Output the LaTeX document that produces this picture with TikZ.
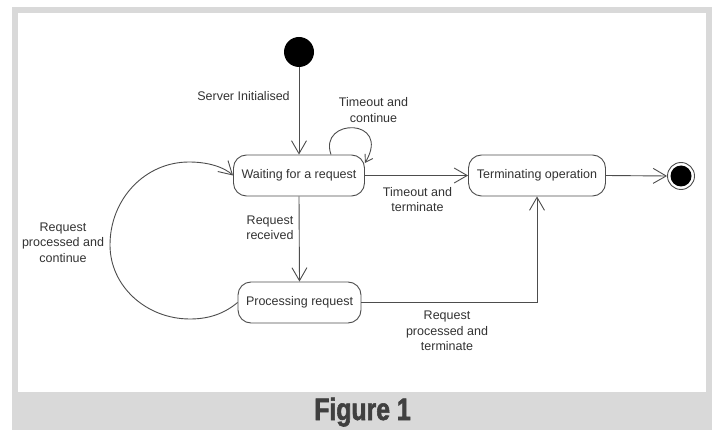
\documentclass[tikz,border=0pt]{standalone}
\usepackage{fontspec}
\setmainfont{Liberation Sans}
\newfontfamily\capfont[FakeStretch=0.8,FakeBold=1.8]{Liberation Sans Bold}
\usetikzlibrary{arrows.meta}
\definecolor{linecol}{HTML}{4D4D4D}
\definecolor{textcol}{HTML}{333333}
\definecolor{bandcol}{HTML}{D9D9D9}
\definecolor{capcol}{HTML}{404040}
\begin{document}
\begin{tikzpicture}[x=1pt,y=-1pt,
  txt/.style={text=textcol, font=\fontsize{12.5}{15.5}\selectfont},
  state/.style={txt, draw=linecol, line width=0.9pt, fill=white,
    rounded corners=13pt, minimum height=41pt, inner sep=0pt},
  lbl/.style={txt, align=center, inner sep=0pt},
  trans/.style={draw=linecol, line width=0.9pt,
    -{Straight Barb[length=13pt,width=15pt,line width=0.9pt]}},
  smalltrans/.style={draw=linecol, line width=0.9pt,
    -{Straight Barb[length=7pt,width=9pt,line width=0.9pt]}},
]
\useasboundingbox (0,0) rectangle (717,430);
% frame and caption band
\fill[white] (0,0) rectangle (717,430);
\fill[bandcol] (12,7) rectangle (712,430);
\fill[white] (18,13) rectangle (706,392);

% states
\node[circle, fill=black, minimum size=30pt, inner sep=0pt] (start) at (299,52) {};
\node[state, minimum width=131pt] (wait) at (299,175.5) {Waiting for a request};
\node[state, minimum width=123pt] (proc) at (299.5,302.5) {Processing request};
\node[state, minimum width=137pt] (term) at (537,175.5) {Terminating operation};
\node[circle, draw=linecol, line width=0.9pt, minimum size=27pt, inner sep=0pt] (final) at (681,176) {};
\fill[black] (final.center) circle[radius=10.5pt];

% transitions
\draw[trans] (start) -- (wait.north);
\draw[smalltrans] ([xshift=32pt]wait.north)
  .. controls ([shift={(19,-37)}]wait.north) and ([shift={(93,-37)}]wait.north)
  .. ([shift={(0,-12.5)}]wait.east);
\draw[trans] (wait.east) -- (term.west);
\draw[trans] (wait.south) -- (proc.north);
\draw[trans] (proc.west)
  .. controls (225,313) and (210,319) .. (190,319)
  .. controls (146,319) and (110,286) .. (110,245)
  .. controls (110,199) and (145,162) .. (189,162)
  .. controls (210,162) and (225,168) .. (wait.west);
\draw[trans] (proc.east) -| (term.south);
\draw[trans] (term.east) -- (final.west);

% transition labels
\node[lbl] (lserver) at (243.5,96) {Server Initialised};
\node[lbl] (lcont) at (373.5,110) {Timeout and\\continue};
\node[lbl] (lterm) at (417.5,199.5) {Timeout and\\terminate};
\node[lbl] (lrecv) at (270,228) {Request\\received};
\node[lbl] (lloop) at (63,242.5) {Request\\processed and\\continue};
\node[lbl] (lproc) at (447,331) {Request\\processed and\\terminate};

% caption
\node[text=capcol, font=\capfont\fontsize{31}{31}\selectfont, anchor=base, inner sep=0pt] (cap) at (362.5,420) {Figure 1};
\end{tikzpicture}
\end{document}
